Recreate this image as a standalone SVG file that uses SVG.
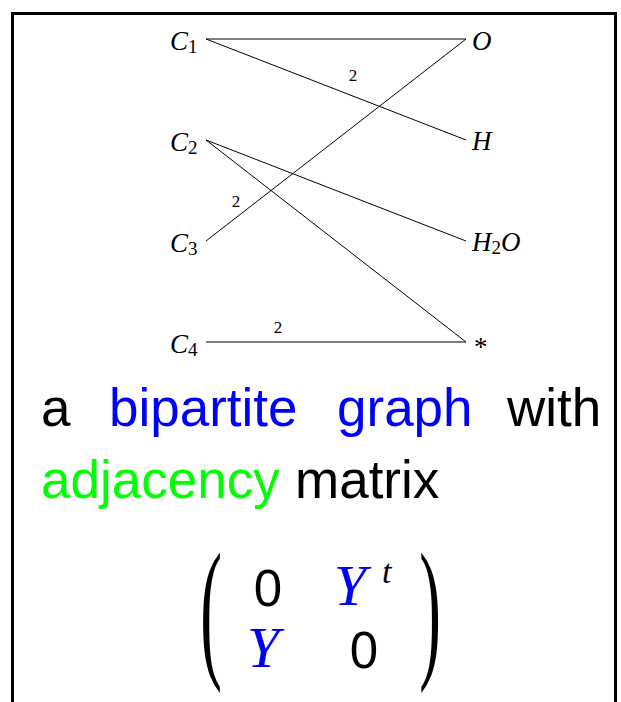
<svg xmlns="http://www.w3.org/2000/svg" width="621" height="702" viewBox="0 0 621 702">
<style>
.lbl{font-family:"Liberation Serif",serif;font-style:italic;font-size:27px;fill:#000}
.sub{font-family:"Liberation Serif",serif;font-style:normal;font-size:19px}
.el{font-family:"Liberation Serif",serif;font-size:17px;fill:#000;text-anchor:middle}
.edge{stroke:#000;stroke-width:1;fill:none}
.body{font-family:"Liberation Sans",Arial,sans-serif;font-size:53px}
.blue{fill:#0000ff}
.green{fill:#00ff00}
.blk{fill:#000}
.num{font-family:"Liberation Sans",Arial,sans-serif;font-size:51px;fill:#000;text-anchor:middle}
.my{font-family:"Liberation Serif",serif;font-style:italic;font-size:58px;fill:#0000ff;stroke:#0000ff;stroke-width:0.2}
.par{font-family:"Liberation Serif",serif;font-size:155px;fill:#000;text-anchor:middle}
</style>
<path d="M12.5 702 V13.5 H615.5 V702" fill="none" stroke="#000" stroke-width="3"/>
<g id="connectors">
<line class="edge" x1="206" y1="39" x2="466" y2="39"/>
<line class="edge" x1="206" y1="39" x2="466" y2="140"/>
<line class="edge" x1="206" y1="140" x2="466" y2="241"/>
<line class="edge" x1="206" y1="140" x2="466" y2="342"/>
<line class="edge" x1="206" y1="241" x2="466" y2="39"/>
<line class="edge" x1="206" y1="342" x2="466" y2="342"/>
<text class="el" x="353" y="81">2</text>
<text class="el" x="236" y="207">2</text>
<text class="el" x="278" y="333">2</text>
</g>
<g id="C1"><text class="lbl" x="170" y="50">C<tspan class="sub" dy="3">1</tspan></text></g>
<g id="C2"><text class="lbl" x="170" y="151">C<tspan class="sub" dy="3">2</tspan></text></g>
<g id="C3"><text class="lbl" x="170" y="252">C<tspan class="sub" dy="3">3</tspan></text></g>
<g id="C4"><text class="lbl" x="170" y="353">C<tspan class="sub" dy="3">4</tspan></text></g>
<g id="O"><text class="lbl" x="472" y="50">O</text></g>
<g id="H"><text class="lbl" x="472" y="150">H</text></g>
<g id="H2O"><text class="lbl" x="472" y="251">H<tspan class="sub" dy="3">2</tspan><tspan dy="-3">O</tspan></text></g>
<g id="star"><text class="lbl" x="474" y="356" style="font-style:normal">*</text></g>
<g id="caption">
<text class="body blk" x="41" y="426">a</text>
<text class="body blue" x="109" y="426">bipartite</text>
<text class="body blue" x="337" y="426">graph</text>
<text class="body blk" x="507" y="426">with</text>
<text class="body green" x="41" y="498">adjacency</text>
<text class="body blk" x="295" y="498">matrix</text>
</g>
<g id="matrix">
<text class="par" transform="translate(211,660) scale(0.42,1)" x="0" y="0">(</text>
<text class="par" transform="translate(430,660) scale(0.42,1)" x="0" y="0">)</text>
<text class="num" x="268" y="606">0</text>
<text class="my" x="334" y="605">Y</text>
<text x="382" y="583" style="font-family:'Liberation Serif',serif;font-style:italic;font-size:34px;fill:#000">t</text>
<text class="my" x="247" y="667">Y</text>
<text class="num" x="364" y="668">0</text>
</g>
</svg>
